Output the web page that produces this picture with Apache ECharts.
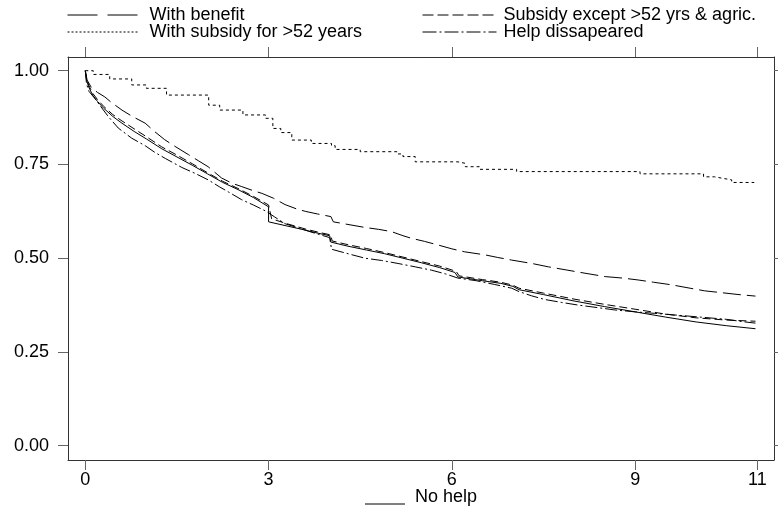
<!DOCTYPE html>
<html>
<head>
<meta charset="utf-8">
<script src="https://cdn.jsdelivr.net/npm/echarts@6/dist/echarts.min.js"></script>
<style>html,body{margin:0;padding:0;background:#fff;}#c{width:778px;height:509px;}</style>
</head>
<body>
<div id="c"></div>
<script>
var xTicks = [0, 3, 6, 9, 11];
var yTicks = [0, 0.25, 0.5, 0.75, 1];

var noHelp = [[0,1],[0.02,0.975],[0.06,0.955],[0.12,0.935],[0.2,0.918],[0.3,0.9],[0.45,0.878],[0.6,0.86],[0.8,0.838],[1.0,0.818],[1.25,0.792],[1.5,0.77],[1.75,0.748],[2.0,0.725],[2.25,0.702],[2.5,0.683],[2.75,0.662],[3.0,0.637],[3.0,0.597],[3.3,0.586],[3.6,0.575],[3.8,0.567],[4.0,0.56],[4.02,0.543],[4.3,0.532],[4.6,0.522],[4.9,0.512],[5.2,0.5],[5.5,0.488],[5.8,0.475],[6.05,0.462],[6.1,0.45],[6.5,0.44],[6.8,0.433],[7.0,0.425],[7.1,0.416],[7.5,0.403],[8.0,0.386],[8.5,0.371],[9.0,0.357],[9.5,0.343],[10.0,0.33],[10.5,0.32],[10.97,0.312]];

var subsidyExcept = [[0,1],[0.02,0.98],[0.06,0.96],[0.12,0.94],[0.2,0.923],[0.3,0.905],[0.45,0.883],[0.6,0.866],[0.8,0.845],[1.0,0.824],[1.25,0.797],[1.5,0.775],[1.75,0.752],[2.0,0.728],[2.25,0.705],[2.5,0.686],[2.75,0.665],[3.0,0.642],[3.05,0.605],[3.3,0.592],[3.6,0.578],[3.8,0.57],[4.02,0.562],[4.04,0.546],[4.3,0.536],[4.6,0.526],[4.9,0.515],[5.2,0.503],[5.5,0.491],[5.8,0.479],[6.07,0.465],[6.12,0.453],[6.5,0.443],[6.8,0.436],[7.0,0.428],[7.1,0.42],[7.5,0.407],[8.0,0.391],[8.5,0.377],[9.0,0.364],[9.5,0.351],[10.0,0.341],[10.5,0.335],[10.97,0.332]];

var helpDisappeared = [[0,1],[0.02,0.965],[0.06,0.945],[0.16,0.925],[0.25,0.905],[0.38,0.877],[0.54,0.847],[0.76,0.82],[0.98,0.80],[1.14,0.782],[1.31,0.766],[1.58,0.742],[1.8,0.726],[2.01,0.709],[2.2,0.69],[2.34,0.677],[2.56,0.656],[2.75,0.642],[2.95,0.626],[3.1,0.61],[3.27,0.592],[3.5,0.58],[3.75,0.567],[4.0,0.555],[4.03,0.524],[4.3,0.512],[4.58,0.50],[4.85,0.494],[5.12,0.486],[5.4,0.477],[5.67,0.468],[5.9,0.458],[6.1,0.447],[6.4,0.44],[6.7,0.43],[6.98,0.42],[7.1,0.411],[7.3,0.40],[7.52,0.39],[7.8,0.382],[8.07,0.375],[8.4,0.368],[8.67,0.362],[9.0,0.357],[9.32,0.353],[9.7,0.348],[10.14,0.342],[10.5,0.337],[10.75,0.331],[10.97,0.327]];

var withBenefit = [[0,1],[0.03,0.975],[0.1,0.955],[0.2,0.942],[0.32,0.93],[0.43,0.915],[0.6,0.895],[0.76,0.879],[0.98,0.86],[1.14,0.837],[1.3,0.816],[1.47,0.798],[1.69,0.776],[1.85,0.76],[2.01,0.744],[2.23,0.714],[2.4,0.70],[2.56,0.691],[2.75,0.68],[2.89,0.673],[3.08,0.66],[3.27,0.643],[3.45,0.632],[3.6,0.625],[3.8,0.618],[4.02,0.611],[4.06,0.597],[4.3,0.59],[4.58,0.582],[4.8,0.577],[5.01,0.571],[5.2,0.56],[5.34,0.553],[5.55,0.545],[5.78,0.535],[6.0,0.525],[6.21,0.517],[6.54,0.509],[6.75,0.502],[6.98,0.495],[7.31,0.486],[7.58,0.477],[7.9,0.468],[8.18,0.46],[8.51,0.451],[8.8,0.447],[9.05,0.442],[9.3,0.436],[9.6,0.429],[9.9,0.42],[10.14,0.413],[10.42,0.408],[10.7,0.403],[10.97,0.399]];

var withSubsidy52 = [[0,1],[0.13,0.99],[0.4,0.978],[0.76,0.962],[1.0,0.953],[1.33,0.935],[2.02,0.908],[2.2,0.895],[2.58,0.882],[2.95,0.873],[3.07,0.846],[3.2,0.835],[3.38,0.815],[3.7,0.806],[4.03,0.80],[4.09,0.79],[4.5,0.784],[5.1,0.778],[5.2,0.771],[5.4,0.757],[6.1,0.753],[6.22,0.744],[6.45,0.737],[7.06,0.731],[9.08,0.725],[10.12,0.717],[10.3,0.712],[10.47,0.709],[10.58,0.702],[10.95,0.702]];

var FONT = '"Liberation Sans", Arial, sans-serif';
var FS = 18;
var chart = echarts.init(document.getElementById('c'), null, {renderer: 'canvas'});

function axisCommon(showLabel, ticks, fmt) {
  return {
    type: 'value',
    splitLine: {show: false},
    axisLine: {show: true, onZero: false, lineStyle: {color: '#333', width: 1}},
    axisTick: {show: true, length: 10, customValues: ticks, lineStyle: {color: '#666', width: 1}},
    axisLabel: {show: showLabel, customValues: ticks, formatter: fmt, color: '#000', fontSize: FS, fontFamily: FONT}
  };
}
var xb = axisCommon(true, xTicks, function (v) { return String(v); });
xb.min = -0.283; xb.max = 11.273; xb.position = 'bottom'; xb.axisLabel.margin = 11;
var xt = axisCommon(false, xTicks, null);
xt.min = -0.283; xt.max = 11.273; xt.position = 'top';
var yl = axisCommon(true, yTicks, function (v) { return v.toFixed(2); });
yl.min = -0.038; yl.max = 1.0365; yl.position = 'left'; yl.axisLabel.margin = 19;
var yr = axisCommon(false, yTicks, null);
yr.min = -0.038; yr.max = 1.0365; yr.position = 'right';

function ser(name, data, dash, step) {
  return {
    name: name, type: 'line', step: step || false, data: data,
    xAxisIndex: 0, yAxisIndex: 0,
    symbol: 'none', showSymbol: false, animation: false,
    lineStyle: {color: '#000', width: 1, type: dash},
    itemStyle: {color: '#000'}
  };
}

var legendText = {fontSize: FS, fontFamily: FONT, color: '#000', lineHeight: 17};
chart.setOption({
  animation: false,
  backgroundColor: '#fff',
  grid: {left: 68, right: 4, top: 57, bottom: 49, containLabel: false},
  xAxis: [xb, xt],
  yAxis: [yl, yr],
  legend: [
    {
      left: 67, top: 6, orient: 'vertical', padding: 0, itemGap: -1,
      itemWidth: 70, itemHeight: 10,
      itemStyle: {opacity: 0},
      textStyle: Object.assign({padding: [0, 0, 0, 7]}, legendText),
      data: [
        {name: 'With benefit', itemStyle: {opacity: 0}, lineStyle: {type: [30, 10], width: 1, color: '#000'}},
        {name: 'With subsidy for >52 years', itemStyle: {opacity: 0}, lineStyle: {type: [2, 2], width: 1, color: '#000'}}
      ]
    },
    {
      left: 422, top: 6, orient: 'vertical', padding: 0, itemGap: -1,
      itemWidth: 74, itemHeight: 10,
      itemStyle: {opacity: 0},
      textStyle: Object.assign({padding: [0, 0, 0, 2]}, legendText),
      data: [
        {name: 'Subsidy except >52 yrs & agric.', itemStyle: {opacity: 0}, lineStyle: {type: [11, 4], width: 1, color: '#000'}},
        {name: 'Help dissapeared', itemStyle: {opacity: 0}, lineStyle: {type: [14, 3, 2, 3], width: 1, color: '#000'}}
      ]
    }
  ],
  graphic: [
    {type: 'line', shape: {x1: 365, y1: 504, x2: 405, y2: 504}, style: {stroke: '#000', lineWidth: 1}},
    {type: 'text', x: 415, y: 497, style: {text: 'No help', font: FS + 'px ' + FONT, fill: '#000', verticalAlign: 'middle'}}
  ],
  series: [
    ser('No help', noHelp, 'solid'),
    ser('With benefit', withBenefit, [18, 6]),
    ser('Subsidy except >52 yrs & agric.', subsidyExcept, [8, 4]),
    ser('With subsidy for >52 years', withSubsidy52, [3, 3], 'end'),
    ser('Help dissapeared', helpDisappeared, [12, 3, 2, 3])
  ]
});
</script>
</body>
</html>
